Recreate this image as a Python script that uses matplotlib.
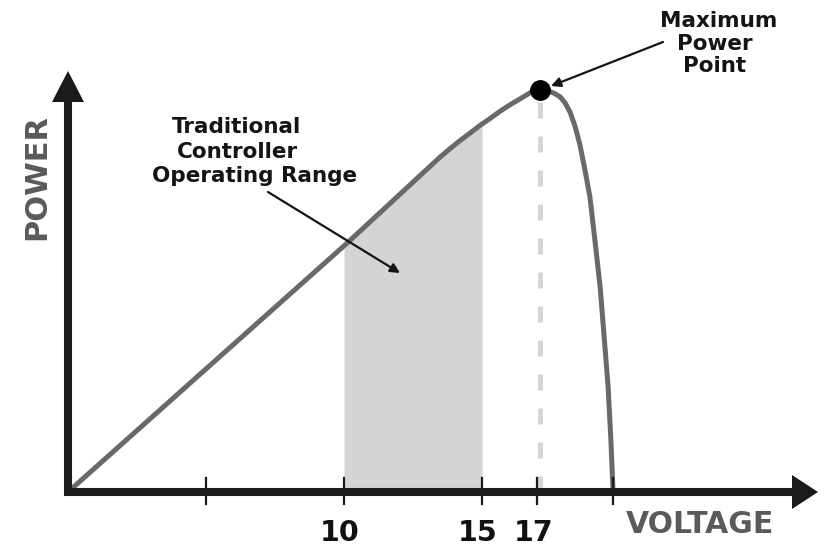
import numpy as np
import matplotlib
matplotlib.use("Agg")
import matplotlib.pyplot as plt
from matplotlib.patches import Polygon

plt.rcParams['font.family'] = ['DejaVu Sans']

# ---- data ----
voltage = [0.0, 10.11, 13.48, 13.84, 14.20, 14.57, 14.93, 15.29, 15.65, 16.01,
           16.38, 16.74, 17.10, 17.28, 17.46, 17.64, 17.83, 18.01, 18.19, 18.37,
           18.55, 18.73, 18.91, 19.09, 19.28, 19.42, 19.57, 19.67, 19.75]
power = [0.0, 61.9, 83.3, 85.4, 87.4, 89.3, 91.2, 92.9, 94.7, 96.3,
         97.8, 99.3, 100.0, 99.9, 99.6, 99.1, 98.3, 96.8, 94.5, 91.0,
         86.3, 80.1, 73.4, 62.7, 51.0, 39.1, 26.1, 12.9, 0.0]
tick_values = [5, 10, 15, 17, 19.75]
tick_labels = ["", "10", "15", "17", ""]
range_start, range_end = 10, 15
mpp_voltage, mpp_power = 17.10, 100.0

# ---- layout helpers (pixel -> data) ----
W, H = 831, 549
X0, SX = 68.0, 27.6     # px of V=0, px per volt
Y0, SY = 492.0, 4.02    # px of P=0, px per power unit
def vx(px): return (px - X0) / SX
def py(py_): return (Y0 - py_) / SY

fig = plt.figure(figsize=(W / 100, H / 100), dpi=100)
ax = fig.add_axes([0, 0, 1, 1])
ax.set_xlim(vx(0), vx(W))
ax.set_ylim(py(H), py(0))
ax.axis('off')

AX_COL = '#1a1a1a'
# shaded operating range
v = np.array(voltage); p = np.array(power)
mask = (v > range_start) & (v < range_end)
fv = np.concatenate([[range_start], v[mask], [range_end]])
fp = np.interp(fv, v, p)
ax.fill_between(fv, 0, fp, color='#d4d4d4', lw=0, zorder=1)

# dashed MPP guide
ax.plot([mpp_voltage, mpp_voltage], [0, mpp_power], color='#d6d6d6', lw=3.6,
        dashes=(3.2, 3.6), zorder=2)

# curve
ax.plot(voltage, power, color='#696969', lw=3.6, solid_joinstyle='round',
        solid_capstyle='round', zorder=3)

# axes lines
ax.plot([vx(64), vx(800)], [0, 0], color=AX_COL, lw=5.8, solid_capstyle='butt', zorder=5)
ax.plot([0, 0], [py(496), py(95)], color=AX_COL, lw=5.8, solid_capstyle='butt', zorder=5)
ax.add_patch(Polygon([(vx(818), py(492)), (vx(792), py(475)), (vx(792), py(509))],
                     closed=True, color=AX_COL, lw=0, zorder=6))
ax.add_patch(Polygon([(vx(68), py(71)), (vx(52), py(102)), (vx(84), py(102))],
                     closed=True, color=AX_COL, lw=0, zorder=6))

# ticks
for tv in tick_values:
    ax.plot([tv, tv], [py(478), py(504)], color=AX_COL, lw=1.6, zorder=6)
for tv, tl in zip(tick_values, tick_labels):
    if tl:
        ax.text(tv - vx(72), py(541), tl, ha='center', va='baseline',
                fontsize=20.5, fontweight='bold', color='#111111')

# MPP dot
ax.plot([mpp_voltage], [mpp_power], 'o', color='black', markersize=14, zorder=7)

# axis titles
ax.text(vx(700), py(533), 'VOLTAGE', ha='center', va='baseline', fontsize=21.5,
        fontweight='bold', color='#5a5a5a')
ax.text(vx(37), py(177), 'POWER', ha='center', va='center', rotation=90,
        fontsize=22, fontweight='bold', color='#5a5a5a')

# annotations
tkw = dict(ha='center', va='baseline', fontsize=15.5, fontweight='bold', color='#141414')
ax.text(vx(237), py(133), 'Traditional', **tkw)
ax.text(vx(237), py(158), 'Controller', **tkw)
ax.text(vx(255), py(182), 'Operating Range', **tkw)
ax.annotate('', xy=(vx(400), py(273)), xytext=(vx(268), py(192)),
            arrowprops=dict(arrowstyle='-|>', color='#141414', lw=1.6,
                            mutation_scale=14, shrinkA=0, shrinkB=0), zorder=8)

ax.text(vx(719), py(27), 'Maximum', **tkw)
ax.text(vx(715), py(50), 'Power', **tkw)
ax.text(vx(715), py(72), 'Point', **tkw)
ax.annotate('', xy=(vx(551), py(86)), xytext=(vx(663), py(42)),
            arrowprops=dict(arrowstyle='-|>', color='#141414', lw=1.6,
                            mutation_scale=14, shrinkA=0, shrinkB=0), zorder=8)

fig.savefig('out.png', dpi=100)
